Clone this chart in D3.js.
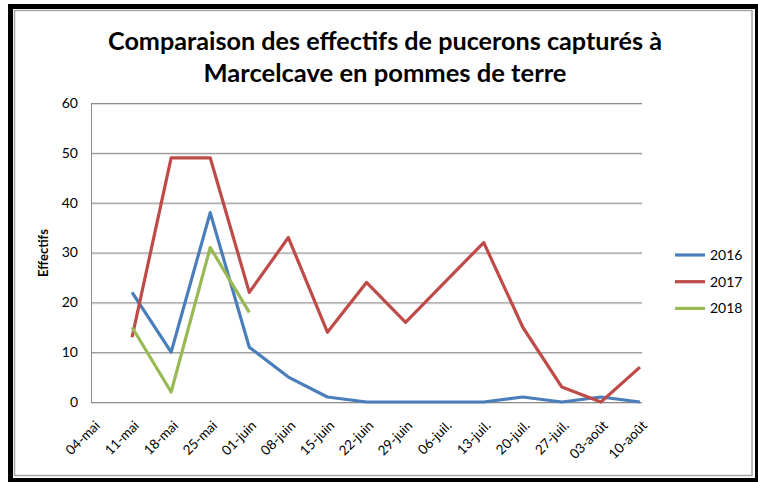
<!DOCTYPE html>
<html>
<head>
<meta charset="utf-8">
<script src="https://cdn.jsdelivr.net/npm/d3@7"></script>
<style>
  body { margin: 0; background: #fff; }
  svg { display: block; }
</style>
</head>
<body>
<svg id="chart" width="758" height="482"></svg>
<script>
const WIDTH = 758, HEIGHT = 482;
const FONT = "Lato, 'Open Sans', sans-serif";

// data
const weeks = ["04-mai", "11-mai", "18-mai", "25-mai", "01-juin", "08-juin", "15-juin", "22-juin",
  "29-juin", "06-juil.", "13-juil.", "20-juil.", "27-juil.", "03-août", "10-août"];
const years = ["2016", "2017", "2018"];
const colors = ["#4a7ebb", "#be4b48", "#98b954"];
const v2016 = [null, 22, 10, 38, 11, 5, 1, 0, 0, 0, 0, 1, 0, 1, 0];
const v2017 = [null, 13, 49, 49, 22, 33, 14, 24, 16, 24, 32, 15, 3, 0, 7];
const v2018 = [null, 15, 2, 31, 18, null, null, null, null, null, null, null, null, null, null];
const yTicks = [0, 10, 20, 30, 40, 50, 60];
const titleLines = ["Comparaison des effectifs de pucerons capturés à", "Marcelcave en pommes de terre"];

const series = [v2016, v2017, v2018];

const plot = { left: 91, right: 642, top: 103, bottom: 402 };

let svg = d3.select('#chart');

// frame
svg.append('rect').attr('x', 8).attr('y', 4).attr('width', 750).attr('height', 478).attr('fill', '#000');
svg.append('rect').attr('x', 13).attr('y', 9).attr('width', 742).attr('height', 469).attr('fill', '#fff');
svg.append('rect').attr('x', 14.5).attr('y', 10.5).attr('width', 737.5).attr('height', 465)
  .attr('fill', 'none').attr('stroke', '#a6a6a6').attr('stroke-width', 1.5);

// title
svg.append('g').selectAll('text').data(titleLines).join('text')
  .attr('x', 385)
  .attr('y', (d, i) => 50 + i * 32)
  .attr('text-anchor', 'middle')
  .attr('font-family', FONT)
  .attr('font-weight', 'bold')
  .attr('font-size', 25)
  .attr('textLength', (d, i) => i === 0 ? 554 : 363)
  .attr('lengthAdjust', 'spacingAndGlyphs')
  .attr('fill', '#000')
  .text(d => d);

let x = d3.scalePoint().domain(weeks).range([93, 640]);
let y = d3.scaleLinear().domain([0, 60]).range([plot.bottom, plot.top]);

// light shadow under grid lines
svg.append('g').selectAll('line').data(yTicks).join('line')
  .attr('x1', plot.left).attr('x2', plot.right)
  .attr('y1', d => y(d) + 1.5).attr('y2', d => y(d) + 1.5)
  .attr('stroke', '#dcdcdc').attr('stroke-width', 1);

let yAxis = svg.append('g')
  .attr('transform', `translate(${plot.left},0)`)
  .call(d3.axisLeft(y).tickValues(yTicks).tickSize(-(plot.right - plot.left)).tickPadding(13));
yAxis.select('.domain').attr('stroke', '#8c8c8c');
yAxis.selectAll('.tick line').attr('stroke', '#8c8c8c');
yAxis.selectAll('.tick text')
  .attr('font-family', FONT).attr('font-size', 14).attr('fill', '#000');

let xAxis = svg.append('g')
  .attr('transform', `translate(0,${plot.bottom})`)
  .call(d3.axisBottom(x).tickSize(0));
xAxis.select('.domain').remove();
xAxis.selectAll('.tick text')
  .attr('font-family', FONT).attr('font-size', 13.5).attr('fill', '#000')
  .attr('text-anchor', 'end')
  .attr('dy', '0.35em')
  .attr('transform', 'translate(4,21) rotate(-45)')
  .attr('y', 0);

// y axis title
svg.append('text')
  .attr('transform', 'translate(48,253) rotate(-90)')
  .attr('text-anchor', 'middle')
  .attr('font-family', FONT).attr('font-weight', 'bold').attr('font-size', 13)
  .text('Effectifs');

// lines
let line = d3.line()
  .defined(d => d != null)
  .x((d, i) => x(weeks[i]))
  .y(d => y(d));

svg.append('g').selectAll('path').data(series).join('path')
  .attr('d', d => line(d))
  .attr('fill', 'none')
  .attr('stroke', (d, i) => colors[i])
  .attr('stroke-width', 3.2)
  .attr('stroke-linejoin', 'round');

// legend
let legend = svg.append('g').selectAll('g').data(years).join('g')
  .attr('transform', (d, i) => `translate(675,${255 + i * 26.7})`);
legend.append('line').attr('x1', 0).attr('x2', 30)
  .attr('stroke', (d, i) => colors[i]).attr('stroke-width', 3.2);
legend.append('text').attr('x', 35).attr('dy', '0.35em')
  .attr('font-family', FONT).attr('font-size', 14).text(d => d);
</script>
</body>
</html>
